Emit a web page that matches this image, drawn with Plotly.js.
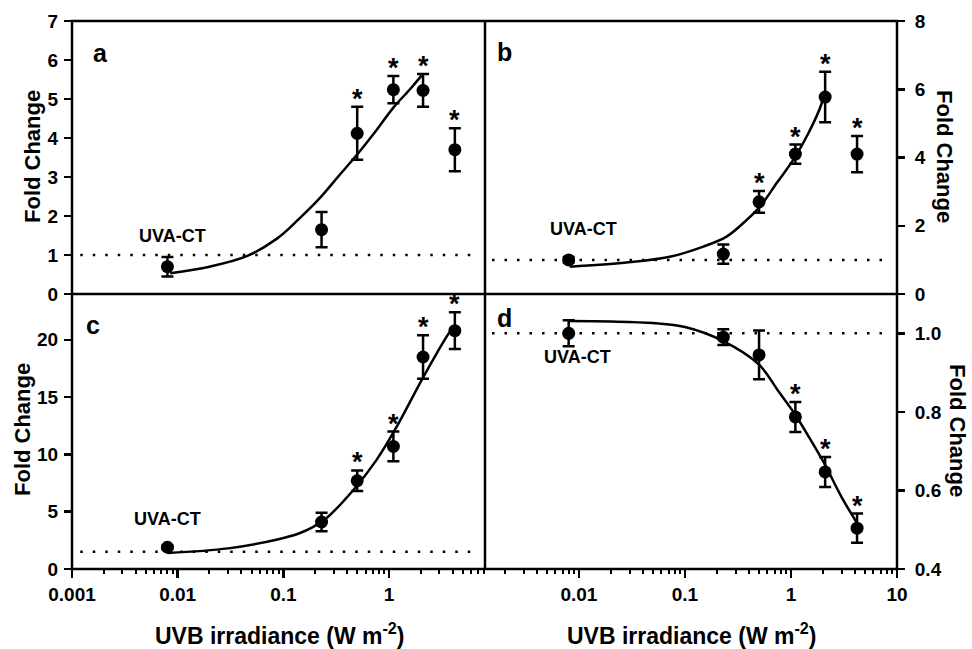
<!DOCTYPE html>
<html>
<head>
<meta charset="utf-8">
<script src="https://cdn.plot.ly/plotly-3.0.1.min.js"></script>
<style>html,body{margin:0;padding:0;background:#fff;}#chart{width:972px;height:649px;}</style>
</head>
<body>
<div id="chart"></div>
<script>
// ---- data ----
var irradiance = [0.008, 0.23, 0.5, 1.1, 2.1, 4.2];

var aMean = [0.7, 1.65, 4.12, 5.24, 5.22, 3.7];
var aErr  = [0.25, 0.45, 0.68, 0.35, 0.42, 0.55];
var aSig  = [false, false, true, true, true, true];
var aFitX = [0.0085, 0.02, 0.045, 0.087, 0.14, 0.22, 0.34, 0.49, 0.76, 1.1, 1.58, 2.03];
var aFitY = [0.53, 0.70, 0.97, 1.42, 1.92, 2.45, 3.05, 3.55, 4.2, 4.78, 5.25, 5.6];
var aCtrl = 1.0;

var bMean = [1.0, 1.17, 2.7, 4.1, 5.77, 4.1];
var bErr  = [0.08, 0.28, 0.32, 0.28, 0.74, 0.53];
var bSig  = [false, false, true, true, true, true];
var bFitX = [0.0082, 0.028, 0.072, 0.149, 0.247, 0.382, 0.51, 0.733, 1.05, 1.46, 1.95, 2.0];
var bFitY = [0.80, 0.92, 1.09, 1.39, 1.68, 2.17, 2.56, 3.25, 3.93, 4.71, 5.59, 5.75];
var bCtrl = 1.0;

var cMean = [1.9, 4.1, 7.7, 10.7, 18.5, 20.8];
var cErr  = [0.15, 0.8, 0.9, 1.3, 1.9, 1.6];
var cSig  = [false, false, true, true, true, true];
var cFitX = [0.008, 0.03, 0.09, 0.14, 0.19, 0.26, 0.46, 0.76, 1.18, 1.96, 2.82, 3.77, 4.05];
var cFitY = [1.4, 1.8, 2.6, 3.1, 3.65, 4.5, 6.9, 9.5, 12.4, 16.2, 18.8, 20.7, 21.0];
var cCtrl = 1.5;

var dMean = [1.0, 0.99, 0.945, 0.787, 0.647, 0.504];
var dErr  = [0.033, 0.02, 0.062, 0.038, 0.038, 0.037];
var dSig  = [false, false, false, true, true, true];
var dFitX = [0.008, 0.02, 0.05, 0.1, 0.23, 0.5, 0.75, 1.07, 1.5, 2.05, 3.0, 4.2];
var dFitY = [1.031, 1.03, 1.026, 1.016, 0.98, 0.92, 0.855, 0.797, 0.733, 0.67, 0.583, 0.517];
var dCtrl = 1.0;

var panelLetters = ['a', 'b', 'c', 'd'];
var ctLabel = 'UVA-CT';
var yTitle = 'Fold Change';
var xTitle = 'UVB irradiance (W m<sup>-2</sup>)';
var xTickValsLeft = [0.001, 0.01, 0.1, 1];
var xTickTextLeft = ['0.001', '0.01', '0.1', '1'];
var xTickValsRight = [0.01, 0.1, 1, 10];
var xTickTextRight = ['0.01', '0.1', '1', '10'];

// ---- build ----
var FONT = 'Liberation Sans, Arial, sans-serif';
var BLK = '#000';
var traces = [];
var annotations = [];
function boldF(s) { return {family: FONT, size: s, color: BLK, weight: 'bold'}; }

function panel(xa, ya, mean, err, sig, fx, fy) {
  traces.push({x: fx, y: fy, xaxis: xa, yaxis: ya, mode: 'lines', type: 'scatter',
    line: {color: BLK, width: 2.5, shape: 'spline', smoothing: 1}, hoverinfo: 'skip'});
  traces.push({x: irradiance, y: mean, xaxis: xa, yaxis: ya, mode: 'markers', type: 'scatter',
    marker: {color: BLK, size: 13},
    error_y: {type: 'data', array: err, visible: true, color: BLK, thickness: 2.5, width: 6}});
  for (var i = 0; i < mean.length; i++) {
    if (sig[i]) {
      annotations.push({xref: xa, yref: ya, x: Math.log10(irradiance[i]), y: mean[i] + err[i],
        text: '*', showarrow: false, yanchor: 'middle', xanchor: 'center', yshift: 8,
        font: boldF(27)});
    }
  }
}
panel('x', 'y', aMean, aErr, aSig, aFitX, aFitY);
panel('x2', 'y2', bMean, bErr, bSig, bFitX, bFitY);
panel('x3', 'y3', cMean, cErr, cSig, cFitX, cFitY);
panel('x4', 'y4', dMean, dErr, dSig, dFitX, dFitY);

function minorVals(lo, hi) {
  var v = [];
  for (var e = lo; e <= hi; e++) for (var k = 2; k <= 9; k++) v.push(k * Math.pow(10, e));
  return v;
}

var L = 72, R = 897, T = 21, B = 569;
var W = R - L, H = B - T;
function px(x) { return (x - L) / W; }
function py(y) { return (B - y) / H; }

var xsplit = px(485);
var ysplit = py(294);
var leftRange = [-3, Math.log10(8.1)];
var rightRange = [Math.log10(0.0013), 1];

var axBase = {showline: false, showgrid: false, zeroline: false,
  tickfont: {family: FONT, size: 19, color: BLK, weight: 'bold'},
  ticks: 'outside', ticklen: 7, tickwidth: 2.5, tickcolor: BLK};
function ax(o) { var r = {}; for (var k in axBase) r[k] = axBase[k]; for (var k2 in o) r[k2] = o[k2]; return r; }
var minorBase = {ticks: 'outside', ticklen: 4, tickwidth: 2, tickcolor: BLK};

var layout = {
  width: 972, height: 649,
  margin: {l: L, r: 972 - R, t: T, b: 649 - B},
  paper_bgcolor: '#fff', plot_bgcolor: '#fff',
  showlegend: false,
  font: {family: FONT, color: BLK},
  xaxis: ax({domain: [0, xsplit], anchor: 'y', type: 'log', range: leftRange, ticks: '', showticklabels: false}),
  yaxis: ax({domain: [ysplit, 1], anchor: 'x', range: [0, 7], tickvals: [0,1,2,3,4,5,6,7], ticklabelstandoff: 2}),
  xaxis2: ax({domain: [xsplit, 1], anchor: 'y2', type: 'log', range: rightRange, ticks: '', showticklabels: false}),
  yaxis2: ax({domain: [ysplit, 1], anchor: 'x2', side: 'right', range: [0, 8], tickvals: [0,2,4,6,8], ticklabelstandoff: 6}),
  xaxis3: ax({domain: [0, xsplit], anchor: 'y3', type: 'log', range: leftRange, ticklen: 8,
    tickvals: xTickValsLeft, ticktext: xTickTextLeft,
    minor: Object.assign({tickvals: minorVals(-3, 0)}, minorBase)}),
  yaxis3: ax({domain: [0, ysplit], anchor: 'x3', range: [0, 24], tickvals: [0,5,10,15,20], ticklabelstandoff: 2}),
  xaxis4: ax({domain: [xsplit, 1], anchor: 'y4', type: 'log', range: rightRange, ticklen: 8,
    tickvals: xTickValsRight, ticktext: xTickTextRight,
    minor: Object.assign({tickvals: minorVals(-3, 0)}, minorBase)}),
  yaxis4: ax({domain: [0, ysplit], anchor: 'x4', side: 'right', range: [0.4, 1.1], ticklabelstandoff: 6,
    tickvals: [0.4, 0.6, 0.8, 1.0], ticktext: ['0.4', '0.6', '0.8', '1.0']}),
  shapes: [],
  annotations: annotations
};

// frame lines
var FL = {color: BLK, width: 2.5};
layout.shapes.push({type: 'rect', xref: 'paper', yref: 'paper', x0: 0, x1: 1, y0: 0, y1: 1, line: FL, layer: 'above'});
layout.shapes.push({type: 'line', xref: 'paper', yref: 'paper', x0: xsplit, x1: xsplit, y0: 0, y1: 1, line: FL, layer: 'above'});
layout.shapes.push({type: 'line', xref: 'paper', yref: 'paper', x0: 0, x1: 1, y0: ysplit, y1: ysplit, line: FL, layer: 'above'});

// control (dotted) lines
var ctrls = [[aCtrl, 'x', 'y', 0.02], [bCtrl, 'x2', 'y2', 0.017], [cCtrl, 'x3', 'y3', 0.02], [dCtrl, 'x4', 'y4', 0.017]];
ctrls.forEach(function(c) {
  layout.shapes.push({type: 'line', xref: c[1] + ' domain', yref: c[2], x0: c[3], x1: 0.985, y0: c[0], y1: c[0],
    line: {color: BLK, width: 2.5, dash: '2.5px,10px'}, layer: 'below'});
});

// panel letters
var letterPos = [[91, 53], [495, 52], [84, 325], [495, 318]];
letterPos.forEach(function(p, i) {
  annotations.push({xref: 'paper', yref: 'paper', x: px(p[0]), y: py(p[1]), xanchor: 'left', yanchor: 'middle',
    text: panelLetters[i], showarrow: false, font: boldF(25)});
});
// control labels
var ctPos = [[172, 236], [583, 229], [167, 519], [577, 357]];
ctPos.forEach(function(p) {
  annotations.push({xref: 'paper', yref: 'paper', x: px(p[0]), y: py(p[1]), xanchor: 'center', yanchor: 'middle',
    text: ctLabel, showarrow: false, font: boldF(18)});
});
// y titles
var yTitlePos = [[32, 157, -90], [22, 430, -90], [945, 157, 90], [958, 430, 90]];
yTitlePos.forEach(function(p) {
  annotations.push({xref: 'paper', yref: 'paper', x: px(p[0]), y: py(p[1]), xanchor: 'center', yanchor: 'middle',
    text: yTitle, textangle: p[2], showarrow: false, font: boldF(22)});
});
// x titles
[[279, 634], [691, 634]].forEach(function(p) {
  annotations.push({xref: 'paper', yref: 'paper', x: px(p[0]), y: py(p[1]), xanchor: 'center', yanchor: 'middle',
    text: xTitle, showarrow: false, font: boldF(23)});
});

Plotly.newPlot('chart', traces, layout, {staticPlot: true, displayModeBar: false});
</script>
</body>
</html>
